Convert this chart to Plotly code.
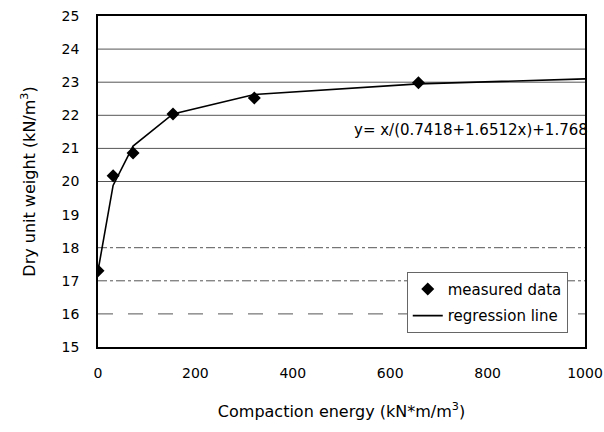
import plotly.graph_objects as go

# measured data
energy = [0, 31, 72, 154, 321, 658]
dry_weight = [17.3, 20.17, 20.86, 22.04, 22.52, 22.98]

# regression line
reg_x = [0, 31, 72, 154, 321, 658, 1000]
reg_y = [17.3, 19.88, 21.07, 22.04, 22.63, 22.95, 23.1]

x_ticks = [0, 200, 400, 600, 800, 1000]
y_ticks = [15, 16, 17, 18, 19, 20, 21, 22, 23, 24, 25]

grid_levels = [16, 17, 18, 20, 21, 22, 23, 24]
grid_dash = ["longdash", "dashdot", "dashdot", "solid", "solid", "solid", "solid", "solid"]

FONT = "DejaVu Sans, Arial, sans-serif"

fig = go.Figure()
fig.add_trace(go.Scatter(
    x=energy, y=dry_weight, mode="markers", name="measured data",
    marker=dict(symbol="diamond", size=10, color="black"),
    legendgroup="a",
))
fig.add_trace(go.Scatter(
    x=reg_x, y=reg_y, mode="lines", name="regression line",
    line=dict(color="black", width=1.6),
    legendgroup="b",
))

for lvl, d in zip(grid_levels, grid_dash):
    fig.add_shape(type="line", xref="paper", yref="y", x0=0, x1=1, y0=lvl, y1=lvl,
                  line=dict(color="#555555", width=1, dash=d), layer="below")

fig.add_annotation(x=1.01, y=21.56, xref="paper", yref="y", xanchor="right",
                   yanchor="middle", showarrow=False,
                   text="y= x/(0.7418+1.6512x)+1.768",
                   font=dict(family=FONT, size=15, color="black"))

fig.update_layout(
    width=604, height=432,
    margin=dict(l=98, r=19, t=16, b=85, autoexpand=False),
    paper_bgcolor="white", plot_bgcolor="white",
    font=dict(family=FONT, size=14, color="black"),
    showlegend=True,
    legend=dict(x=0.634, y=0.227, xanchor="left", yanchor="top",
                bordercolor="#666666", borderwidth=1, bgcolor="white",
                font=dict(family=FONT, size=15),
                traceorder="grouped", tracegroupgap=4),
    xaxis=dict(range=[0, 1000], tickvals=x_ticks, showgrid=False, zeroline=False,
               showline=True, linecolor="black", linewidth=1.5, mirror=True,
               automargin=False,
               ticks="", tickfont=dict(size=14), ticklabelstandoff=12,
               title=dict(text="Compaction energy (kN*m/m<sup>3</sup>)", standoff=26,
                          font=dict(size=16))),
    yaxis=dict(range=[15, 25], tickvals=y_ticks, showgrid=False, zeroline=False,
               showline=True, linecolor="black", linewidth=1.5, mirror=True,
               automargin=False,
               ticks="", tickfont=dict(size=14), ticklabelstandoff=14,
               title=dict(text="Dry unit weight (kN/m<sup>3</sup>)", standoff=22,
                          font=dict(size=16))),
)

fig.write_html("out.html")
